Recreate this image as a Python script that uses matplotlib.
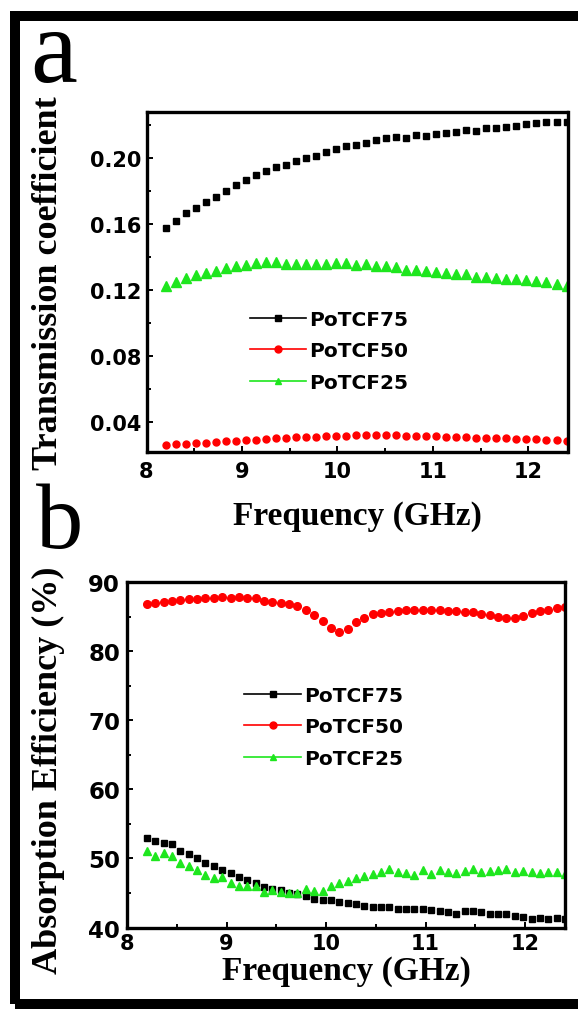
import numpy as np
import matplotlib
matplotlib.use("Agg")
import matplotlib.pyplot as plt
from matplotlib.lines import Line2D
from matplotlib.patches import Rectangle
from matplotlib.ticker import MultipleLocator, FormatStrFormatter

# ---- data ----
freq_a = [8.2, 8.305, 8.41, 8.515, 8.62, 8.725, 8.83, 8.935, 9.04, 9.145,
          9.25, 9.355, 9.46, 9.565, 9.67, 9.775, 9.88, 9.985, 10.09, 10.195,
          10.3, 10.405, 10.51, 10.615, 10.72, 10.825, 10.93, 11.035, 11.14, 11.245,
          11.35, 11.455, 11.56, 11.665, 11.77, 11.875, 11.98, 12.085, 12.19, 12.295, 12.4]

trans_75 = [0.1579, 0.1621, 0.1665, 0.1699, 0.1731, 0.1765, 0.1801, 0.1836, 0.1866, 0.1896,
            0.1920, 0.1946, 0.1956, 0.1982, 0.2000, 0.2016, 0.2036, 0.2056, 0.2076, 0.2082,
            0.2092, 0.2112, 0.2120, 0.2130, 0.2120, 0.2140, 0.2132, 0.2146, 0.2150, 0.2156,
            0.2172, 0.2162, 0.2182, 0.2182, 0.2186, 0.2196, 0.2206, 0.2216, 0.2220, 0.2222, 0.2222]
trans_50 = [0.0257, 0.0267, 0.0268, 0.0273, 0.0274, 0.0277, 0.0281, 0.0283, 0.0289, 0.0290,
            0.0298, 0.0299, 0.0304, 0.0305, 0.0305, 0.0308, 0.0313, 0.0314, 0.0314, 0.0318,
            0.0318, 0.0318, 0.0318, 0.0318, 0.0314, 0.0314, 0.0314, 0.0314, 0.0310, 0.0308,
            0.0308, 0.0304, 0.0304, 0.0304, 0.0300, 0.0297, 0.0297, 0.0293, 0.0289, 0.0289, 0.0285]
trans_25 = [0.1224, 0.1250, 0.1274, 0.1288, 0.1304, 0.1318, 0.1334, 0.1348, 0.1354, 0.1364,
            0.1370, 0.1370, 0.1360, 0.1360, 0.1360, 0.1360, 0.1360, 0.1364, 0.1364, 0.1354,
            0.1358, 0.1348, 0.1344, 0.1338, 0.1324, 0.1324, 0.1314, 0.1308, 0.1304, 0.1294,
            0.1294, 0.1280, 0.1280, 0.1270, 0.1264, 0.1264, 0.1258, 0.1254, 0.1248, 0.1238, 0.1224]

freq_b = [8.2, 8.284, 8.368, 8.452, 8.536, 8.62, 8.704, 8.788, 8.872, 8.956,
          9.04, 9.124, 9.208, 9.292, 9.376, 9.46, 9.544, 9.628, 9.712, 9.796,
          9.88, 9.964, 10.048, 10.132, 10.216, 10.3, 10.384, 10.468, 10.552, 10.636,
          10.72, 10.804, 10.888, 10.972, 11.056, 11.14, 11.224, 11.308, 11.392, 11.476,
          11.56, 11.644, 11.728, 11.812, 11.896, 11.98, 12.064, 12.148, 12.232, 12.316, 12.4]

absorb_75 = [52.9, 52.55, 52.3, 52.05, 51.1, 50.7, 50.0, 49.3, 48.9, 48.35,
             47.9, 47.25, 46.85, 46.4, 45.8, 45.55, 45.4, 44.95, 44.8, 44.5,
             44.1, 43.95, 43.95, 43.7, 43.6, 43.4, 43.05, 42.9, 42.9, 42.9,
             42.7, 42.65, 42.65, 42.65, 42.5, 42.4, 42.2, 42.0, 42.4, 42.4,
             42.2, 42.0, 42.0, 41.95, 41.7, 41.5, 41.3, 41.35, 41.3, 41.35, 41.3]
absorb_50 = [86.81, 86.96, 87.15, 87.30, 87.39, 87.54, 87.54, 87.68, 87.68, 87.78,
             87.68, 87.78, 87.68, 87.68, 87.30, 87.15, 86.96, 86.81, 86.47, 85.99,
             85.26, 84.30, 83.33, 82.80, 83.19, 84.25, 84.73, 85.36, 85.51, 85.60,
             85.75, 85.94, 85.94, 85.99, 85.99, 85.99, 85.84, 85.84, 85.70, 85.60,
             85.36, 85.22, 84.88, 84.78, 84.78, 85.02, 85.46, 85.75, 85.99, 86.23, 86.42]
absorb_25 = [51.1, 50.4, 50.85, 50.3, 49.3, 48.95, 48.35, 47.6, 47.1, 47.25,
             46.4, 46.05, 46.05, 46.05, 45.15, 45.45, 45.15, 44.95, 45.05, 45.55,
             45.3, 45.3, 46.0, 46.5, 46.75, 47.1, 47.4, 47.7, 48.0, 48.45,
             48.0, 47.85, 47.6, 48.3, 47.7, 48.3, 48.05, 47.85, 48.2, 48.45,
             48.05, 48.2, 48.3, 48.45, 48.05, 48.2, 48.0, 47.9, 48.05, 48.0, 47.7]

names = ["PoTCF75", "PoTCF50", "PoTCF25"]
colors = ["#000000", "#ff0000", "#1ee61e"]
markers = ["s", "o", "^"]

W, H = 578, 1012
fig = plt.figure(figsize=(W / 100, H / 100), dpi=100)
fig.patch.set_facecolor("white")

SERIF = "Liberation Serif"
SANS = "DejaVu Sans"


def px_axes(left, top, right, bottom):
    return fig.add_axes([left / W, 1 - bottom / H, (right - left) / W, (bottom - top) / H])


def style_axes(ax, fs_x, fs_y):
    for s in ax.spines.values():
        s.set_linewidth(2.4)
    ax.tick_params(which="both", direction="in", top=False, right=False, width=1.4)
    ax.tick_params(which="major", length=4)
    ax.tick_params(which="minor", length=3)
    ax.xaxis.set_major_locator(MultipleLocator(1))
    ax.xaxis.set_minor_locator(MultipleLocator(0.5))
    for lab in ax.get_xticklabels():
        lab.set_fontfamily(SANS)
        lab.set_fontweight("bold")
        lab.set_fontsize(fs_x)
    for lab in ax.get_yticklabels():
        lab.set_fontfamily(SANS)
        lab.set_fontweight("bold")
        lab.set_fontsize(fs_y)


# ---- panel a ----
ax1 = px_axes(146.5, 113, 567.5, 452.5)
ax1.plot(freq_a, trans_75, ls="none", marker="s", ms=5, color=colors[0], mec=colors[0])
ax1.plot(freq_a, trans_50, ls="none", marker="o", ms=5, color=colors[1], mec=colors[1])
ax1.plot(freq_a, trans_25, ls="none", marker="^", ms=6.5, color=colors[2], mec=colors[2])
ax1.set_xlim(8, 12.41)
ax1.set_ylim(0.022, 0.228)
ax1.yaxis.set_major_locator(MultipleLocator(0.04))
ax1.yaxis.set_minor_locator(MultipleLocator(0.02))
ax1.yaxis.set_major_formatter(FormatStrFormatter("%.2f"))
ax1.set_yticks([0.04, 0.08, 0.12, 0.16, 0.20])
ax1.tick_params(axis="y", pad=4)
ax1.tick_params(axis="x", pad=7)
style_axes(ax1, 15, 15)

# ---- panel b ----
ax2 = px_axes(127, 583, 565, 928.5)
ax2.plot(freq_b, absorb_75, ls="none", marker="s", ms=5, color=colors[0], mec=colors[0])
ax2.plot(freq_b, absorb_50, ls="none", marker="o", ms=5.5, color=colors[1], mec=colors[1])
ax2.plot(freq_b, absorb_25, ls="none", marker="^", ms=6, color=colors[2], mec=colors[2])
ax2.set_xlim(8, 12.4)
ax2.set_ylim(40, 90)
ax2.yaxis.set_major_locator(MultipleLocator(10))
ax2.yaxis.set_minor_locator(MultipleLocator(5))
ax2.tick_params(axis="y", pad=5)
ax2.tick_params(axis="x", pad=4)
style_axes(ax2, 15, 16.5)

# ---- legends ----
leg_font = {"family": SANS, "weight": "bold", "size": 14.5}
for ax, anchor in [(ax1, (0.246, 0.418)), (ax2, (0.268, 0.700))]:
    handles = [Line2D([], [], color=c, marker=m, ms=5, lw=1.2) for c, m in zip(colors, markers)]
    ax.legend(handles, names, loc="upper left", bbox_to_anchor=anchor, frameon=False,
              prop=leg_font, handlelength=2.8, handletextpad=0.15, labelspacing=0.62,
              borderpad=0, borderaxespad=0)

# ---- axis titles ----
lab_font = dict(family=SERIF, weight="bold")
fig.text(357 / W, 1 - 516 / H, "Frequency (GHz)", ha="center", va="center", size=24, **lab_font)
fig.text(346 / W, 1 - 972 / H, "Frequency (GHz)", ha="center", va="center", size=24, **lab_font)
fig.text(49 / W, 1 - 283 / H, "Transmission coefficient", rotation=90,
         ha="center", va="center", size=26, **lab_font)
fig.text(48 / W, 1 - 770 / H, "Absorption Efficiency (%)", rotation=90,
         ha="center", va="center", size=26, **lab_font)

# panel letters
fig.text(30 / W, 1 - 82 / H, "a", family=SERIF, size=76, ha="left", va="baseline")
fig.text(36 / W, 1 - 548 / H, "b", family=SERIF, size=68, ha="left", va="baseline")

# thick outer frame (right side runs off the picture)
fig.add_artist(Rectangle((15 / W, 1 - 1005 / H), 1.2, (1005 - 17) / H,
                         transform=fig.transFigure, fill=False, lw=7.2,
                         edgecolor="black", clip_on=False))

fig.savefig("out.png", dpi=100)
